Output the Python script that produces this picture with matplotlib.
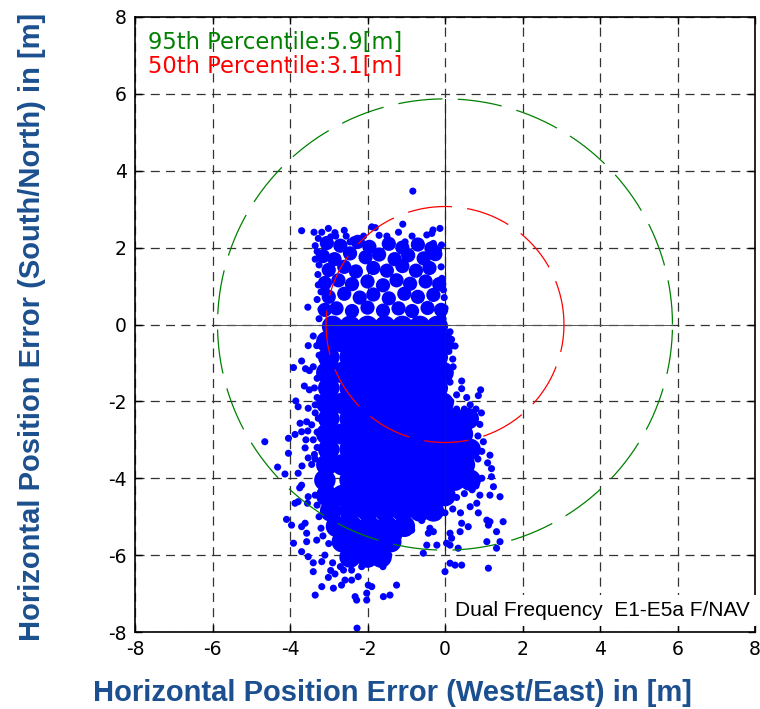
import matplotlib
matplotlib.use("Agg")
import matplotlib.pyplot as plt
import numpy as np

plt.rcParams['axes.unicode_minus'] = False
plt.rcParams['lines.scale_dashes'] = False

# ---------------- data ----------------
p95_radius = 5.87
p50_radius = 3.07
p95_label = "95th Percentile:5.9[m]"
p50_label = "50th Percentile:3.1[m]"
mode_label = "Dual Frequency  E1-E5a F/NAV"
xlabel = "Horizontal Position Error (West/East) in [m]"
ylabel = "Horizontal Position Error (South/North) in [m]"
ticks = [-8, -6, -4, -2, 0, 2, 4, 6, 8]

# upper part of the point cloud (medium blobs)
upper_pts = [(-3.05, 2.12), (-2.70, 2.05), (-2.25, 2.15), (-1.95, 2.02), (-1.45, 2.10),
             (-1.10, 2.00), (-0.70, 2.08), (-0.35, 1.98),
             (-3.15, 1.78), (-2.85, 1.70), (-2.45, 1.85), (-2.05, 1.75), (-1.70, 1.82),
             (-1.30, 1.70), (-0.95, 1.80), (-0.55, 1.72), (-0.25, 1.83),
             (-3.00, 1.42), (-2.60, 1.50), (-2.30, 1.38), (-1.85, 1.47), (-1.50, 1.40),
             (-1.10, 1.52), (-0.75, 1.40), (-0.40, 1.47),
             (-3.10, 1.08), (-2.75, 1.15), (-2.40, 1.05), (-2.00, 1.12), (-1.60, 1.02),
             (-1.25, 1.15), (-0.90, 1.06), (-0.50, 1.12), (-0.15, 1.05),
             (-3.00, 0.72), (-2.60, 0.80), (-2.20, 0.70), (-1.85, 0.78), (-1.45, 0.68),
             (-1.05, 0.80), (-0.70, 0.72), (-0.30, 0.77),
             (-3.10, 0.38), (-2.80, 0.42), (-2.40, 0.35), (-2.00, 0.44), (-1.60, 0.36),
             (-1.20, 0.42), (-0.85, 0.35), (-0.45, 0.43), (-0.10, 0.38)]

# dense core of the point cloud (rows: y, x positions)
core_y = [-0.05, -0.45, -0.85, -1.25, -1.65, -2.05, -2.45, -2.85, -3.25,
          -3.65, -4.05, -4.45, -4.85, -5.25, -5.65, -6.05]
core_x = [
    [-2.9, -2.45, -2.0, -1.55, -1.1, -0.65, -0.2],
    [-3.05, -2.65, -2.2, -1.75, -1.3, -0.85, -0.4, -0.05],
    [-3.0, -2.45, -2.0, -1.55, -1.1, -0.65, -0.2],
    [-3.05, -2.65, -2.2, -1.75, -1.3, -0.85, -0.4, -0.05],
    [-3.0, -2.45, -2.0, -1.55, -1.1, -0.65, -0.2],
    [-3.05, -2.65, -2.2, -1.75, -1.3, -0.85, -0.4, -0.05],
    [-3.0, -2.45, -2.0, -1.55, -1.1, -0.65, -0.2, 0.25, 0.6],
    [-3.05, -2.65, -2.2, -1.75, -1.3, -0.85, -0.4, 0.05, 0.45],
    [-3.0, -2.45, -2.0, -1.55, -1.1, -0.65, -0.2, 0.25, 0.65],
    [-3.05, -2.65, -2.2, -1.75, -1.3, -0.85, -0.4, 0.05, 0.5],
    [-3.1, -2.45, -2.0, -1.55, -1.1, -0.65, -0.2, 0.25, 0.65],
    [-3.05, -2.65, -2.2, -1.75, -1.3, -0.85, -0.4, 0.0],
    [-2.95, -2.45, -2.0, -1.55, -1.1, -0.65, -0.3],
    [-2.8, -2.4, -1.95, -1.5, -1.05],
    [-2.65, -2.2, -1.75, -1.4],
    [-2.45, -2.0, -1.65],
]

# individual scattered points
top_pts = [(-3.70, 2.44), (-3.38, 2.40), (-3.18, 2.40), (-3.01, 2.50), (-2.84, 2.39),
           (-2.82, 2.30), (-3.27, 2.24), (-1.89, 2.54), (-1.80, 2.52), (-2.37, 2.20),
           (-2.45, 2.15), (-3.54, 0.45), (-3.27, 1.03), (-3.20, 0.85), (-3.07, 0.92),
           (-3.30, 1.90), (-3.35, 2.05), (-3.25, 1.55), (-3.28, 1.30), (-0.83, 3.47),
           (-1.09, 2.61), (-0.13, 2.50), (-0.31, 2.46), (-0.34, 2.37), (-0.47, 2.33),
           (-1.03, 2.15), (-0.66, 2.15), (-0.30, 2.11), (-0.09, 2.07), (-0.17, 1.94),
           (0.00, 0.43), (-0.04, 0.90), (-0.10, 1.50), (-0.08, 1.20), (-2.10, 2.30),
           (-1.50, 2.30), (-1.20, 2.40), (-2.60, 2.45), (-3.20, 0.40), (-3.25, 0.15),
           (-2.95, 2.28), (-2.55, 2.30), (-1.70, 2.32), (-0.85, 2.30), (-3.35, 1.70),
           (-3.30, 0.65), (-0.05, 0.15), (-0.02, 0.70)]
left_pts = [(-3.53, -0.55), (-3.31, -0.55), (-3.70, -0.95), (-3.91, -1.12), (-3.60, -1.15),
            (-3.50, -1.20), (-3.40, -1.10), (-3.63, -1.60), (-3.50, -1.70), (-3.37, -1.65),
            (-3.85, -1.99), (-3.79, -2.14), (-3.53, -2.18), (-3.35, -2.09), (-3.74, -2.57),
            (-3.57, -2.53), (-3.44, -2.61), (-3.27, -2.44), (-3.87, -2.86), (-3.70, -2.79),
            (-3.54, -2.77), (-4.04, -2.96), (-3.59, -3.00), (-3.40, -3.00), (-4.65, -3.05),
            (-4.04, -3.35), (-4.32, -3.71), (-3.61, -3.21), (-3.53, -3.47), (-3.37, -3.38),
            (-3.44, -3.64), (-3.69, -3.68), (-3.40, -0.30), (-3.25, -0.80), (-3.30, -1.40),
            (-3.30, -1.90), (-3.35, -2.30), (-3.30, -2.80), (-3.30, -3.20), (-3.35, -3.50)]
bottom_pts = [(-4.13, -3.89), (-3.79, -3.87), (-3.70, -4.18), (-3.75, -4.25), (-3.87, -4.65),
              (-3.79, -4.61), (-3.53, -4.48), (-3.35, -4.44), (-3.23, -4.44), (-3.55, -4.65),
              (-4.09, -5.07), (-3.96, -5.22), (-3.70, -5.26), (-3.61, -5.17), (-3.57, -5.43),
              (-3.91, -5.69), (-3.57, -5.65), (-3.31, -5.61), (-3.70, -5.91), (-3.53, -6.04),
              (-3.40, -6.20), (-3.18, -6.17), (-3.40, -6.43), (-3.01, -6.58), (-2.84, -6.49),
              (-2.62, -6.39), (-2.41, -6.39), (-2.15, -6.30), (-3.18, -6.82), (-2.88, -6.86),
              (-2.67, -6.78), (-2.58, -6.65), (-2.41, -6.65), (-2.24, -6.56), (-1.98, -6.78),
              (-1.89, -6.82), (-3.35, -7.04), (-2.32, -7.08), (-2.28, -7.17), (-2.02, -6.99),
              (-2.02, -7.17), (-1.59, -7.08), (-2.27, -7.90), (-3.10, -6.00), (-2.90, -6.20),
              (-2.70, -6.30), (-2.30, -6.15), (-1.90, -6.20), (-1.60, -6.30), (-1.45, -6.00),
              (-1.30, -5.80), (-3.20, -5.30), (-3.25, -5.00), (-3.30, -4.70), (-3.00, -5.70),
              (-3.15, -5.50), (-2.95, -6.40), (-1.25, -6.78), (-1.42, -7.04)]
right_pts = [(0.13, -0.19), (0.17, -0.39), (0.17, -0.56), (0.26, -0.56), (0.21, -1.10),
             (0.09, -1.36), (0.13, -1.50), (0.43, -1.47), (0.43, -1.67), (0.30, -1.83),
             (0.56, -1.90), (0.65, -2.09), (0.86, -1.85), (0.92, -1.70), (0.20, -0.90),
             (0.10, -0.70), (0.15, -2.00), (0.94, -2.30), (0.90, -2.60), (0.85, -2.90),
             (0.99, -3.05), (0.95, -3.30), (1.16, -3.40), (1.10, -3.60), (1.20, -3.75),
             (0.80, -2.20), (0.75, -2.50), (0.80, -3.20), (0.85, -3.50), (0.30, -2.20),
             (0.50, -2.20), (1.20, -3.96), (0.95, -4.00), (0.90, -4.44), (1.16, -4.44),
             (1.42, -4.48), (1.25, -4.22), (0.82, -4.65), (0.65, -4.74), (0.86, -4.90),
             (1.08, -5.09), (1.16, -5.13), (1.50, -5.13), (1.12, -5.22), (1.33, -5.39),
             (0.43, -5.17), (0.60, -5.26), (0.39, -5.39), (0.13, -5.43), (0.17, -5.56),
             (-0.39, -5.30), (-0.30, -5.39), (-0.43, -5.43), (-0.90, -5.22), (-0.86, -5.35),
             (-1.16, -5.43), (-1.20, -5.52), (0.04, -5.69), (0.13, -5.74), (-0.21, -5.74),
             (-0.47, -5.74), (-0.56, -5.95), (0.34, -5.82), (1.08, -5.65), (1.33, -5.82),
             (1.42, -5.65), (0.13, -6.21), (0.26, -6.26), (0.43, -6.26), (0.00, -6.43),
             (1.12, -6.34), (0.10, -4.40), (0.30, -4.50), (0.50, -4.40), (0.70, -4.30),
             (0.20, -4.80), (0.00, -4.90), (-0.20, -5.00), (0.40, -4.90), (0.60, -4.10),
             (0.80, -4.20), (0.30, -4.20), (-0.60, -5.10), (-1.00, -5.00), (-0.80, -4.95),
             (-1.30, -5.20), (-1.40, -5.60)]

# ---------------- figure ----------------
blue = (0, 0, 1)
green = (0, 0.5, 0)
red = (1, 0, 0)
label_color = '#1B4F8F'

fig = plt.figure(figsize=(7.6, 7.09), dpi=100)
ax = fig.add_axes([135 / 760, 77 / 709, 620 / 760, 615 / 709])
ax.set_xlim(-8, 8)
ax.set_ylim(-8, 8)
ax.set_xticks(ticks)
ax.set_yticks(ticks)
ax.set_xticklabels([str(t) for t in ticks])
ax.set_yticklabels([str(t) for t in ticks])
ax.tick_params(direction='in', top=True, right=True, length=5, width=1,
               labelsize=13.5, pad=6)
for lab in ax.get_xticklabels() + ax.get_yticklabels():
    lab.set_fontfamily('DejaVu Sans')
for sp in ax.spines.values():
    sp.set_linewidth(1.2)

ax.grid(True, color='#333333', linewidth=0.9, dashes=(6.5, 4.5), zorder=0)
ax.set_axisbelow(True)

# point cloud
cx = [x for row in core_x for x in row]
cy = [y for y, row in zip(core_y, core_x) for _ in row]
ax.scatter([p[0] for p in upper_pts], [p[1] for p in upper_pts], s=105, color=blue,
           edgecolors='none', zorder=2)
ax.scatter(cx, cy, s=240, color=blue, edgecolors='none', zorder=2)
for pts in (top_pts, left_pts, bottom_pts, right_pts):
    ax.scatter([p[0] for p in pts], [p[1] for p in pts], s=26, color=blue,
               edgecolors='none', zorder=2)

# crosshair inside 95% circle
ax.plot([-p95_radius, p95_radius], [0, 0], color='#555555', lw=0.7, zorder=3)
ax.plot([0, 0], [-p95_radius, p95_radius], color='#222222', lw=0.8, zorder=3)

# percentile circles
th = np.linspace(0, 2 * np.pi, 721)
ax.plot(p95_radius * np.cos(th), p95_radius * np.sin(th), color=green, lw=0.9,
        dashes=(32, 11), zorder=4)
ax.plot(p50_radius * np.cos(th), p50_radius * np.sin(th), color=red, lw=0.9,
        dashes=(32, 11), zorder=4)

ax.text(0.021, 0.978, p95_label, transform=ax.transAxes, color=green,
        fontsize=16.3, family='DejaVu Sans', va='top', ha='left', zorder=5)
ax.text(0.021, 0.939, p50_label, transform=ax.transAxes, color=red,
        fontsize=16.3, family='DejaVu Sans', va='top', ha='left', zorder=5)
ax.text(0.992, 0.026, mode_label, transform=ax.transAxes, color='black',
        fontsize=15, family='Liberation Sans', va='baseline', ha='right', zorder=5,
        bbox=dict(facecolor='white', edgecolor='none', pad=4))

fig.text(392 / 760, 1 - 693 / 709, xlabel, color=label_color, fontsize=21,
         fontweight='bold', family='Liberation Sans', ha='center', va='center')
fig.text(32 / 760, 1 - 327 / 709, ylabel, color=label_color, fontsize=21,
         fontweight='bold', family='Liberation Sans', ha='center', va='center',
         rotation=90)

fig.savefig('out.png', dpi=100)
